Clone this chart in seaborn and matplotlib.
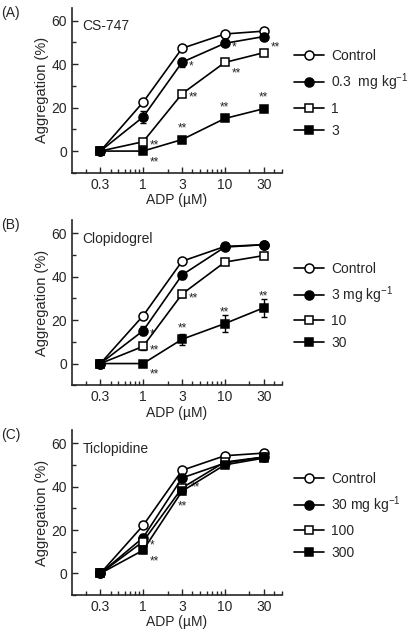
import numpy as np
import matplotlib
matplotlib.use("Agg")
import matplotlib.pyplot as plt
import seaborn as sns
from matplotlib.ticker import MultipleLocator, FixedLocator, NullFormatter

sns.set_style("ticks")
plt.rcParams["font.family"] = ["Liberation Sans", "DejaVu Sans"]
plt.rcParams["mathtext.default"] = "regular"

# ADP concentrations (uM)
adp = [0.3, 1, 3, 10, 30]
tick_labels = ["0.3", "1", "3", "10", "30"]

# ---------------- CS-747
cs_control = [0, 22.5, 47.3, 53.9, 55.2]
cs_d1 = [0, 15.7, 40.9, 49.6, 52.7]
cs_d2 = [0, 4.3, 26.4, 40.8, 45.3]
cs_d3 = [0, 0, 5.3, 15.0, 19.5]
cs_err_d1 = [0, 2.7, 2.0, 1.0, 1.0]
cs_labels = ["Control", "0.3  mg kg$^{-1}$", "1", "3"]
# (serie, indice adp, texto, posicion)
cs_sig = [(1, 2, "*", "r"), (1, 3, "*", "r"),
          (2, 1, "**", "r"), (2, 2, "**", "r"), (2, 3, "**", "rb"), (2, 4, "**", "ra"),
          (3, 1, "**", "rb"), (3, 2, "**", "a"), (3, 3, "**", "a"), (3, 4, "**", "a")]

# ---------------- Clopidogrel
cl_control = [0, 22.0, 47.1, 53.9, 54.7]
cl_d1 = [0, 15.1, 40.8, 53.6, 54.7]
cl_d2 = [0, 7.9, 32.0, 46.7, 49.7]
cl_d3 = [0, 0, 11.2, 18.4, 25.7]
cl_err_d1 = [0, 2.0, 1.8, 1.0, 0.8]
cl_err_d2 = [0, 1.5, 1.5, 1.0, 1.0]
cl_err_d3 = [0, 0.5, 2.6, 3.8, 4.2]
cl_labels = ["Control", "3 mg kg$^{-1}$", "10", "30"]
cl_sig = [(1, 1, "*", "r"), (2, 1, "**", "r"), (2, 2, "**", "r"),
          (3, 1, "**", "rb"), (3, 2, "**", "a"), (3, 3, "**", "a"), (3, 4, "**", "a")]

# ---------------- Ticlopidine
ti_control = [0, 22.1, 47.5, 54.2, 55.4]
ti_d1 = [0, 16.5, 44.0, 50.8, 53.6]
ti_d2 = [0, 14.7, 39.4, 51.3, 53.6]
ti_d3 = [0, 10.7, 37.9, 50.0, 53.1]
ti_err = [0, 1.5, 1.5, 1.0, 1.0]
ti_labels = ["Control", "30 mg kg$^{-1}$", "100", "300"]
ti_sig = [(2, 1, "*", "r"), (3, 1, "**", "rb"), (2, 2, "**", "rr"), (3, 2, "**", "b")]

paneles = [
    ("(A)", "CS-747", [cs_control, cs_d1, cs_d2, cs_d3],
     [None, cs_err_d1, None, None], cs_labels, cs_sig),
    ("(B)", "Clopidogrel", [cl_control, cl_d1, cl_d2, cl_d3],
     [None, cl_err_d1, cl_err_d2, cl_err_d3], cl_labels, cl_sig),
    ("(C)", "Ticlopidine", [ti_control, ti_d1, ti_d2, ti_d3],
     [None, ti_err, ti_err, ti_err], ti_labels, ti_sig),
]

estilos = [("o", "white"), ("o", "black"), ("s", "white"), ("s", "black")]
offsets = {"r": (5, -3), "rb": (5, -8), "ra": (5, 4), "a": (0, 8),
           "rr": (6, 0), "b": (0, -11)}

fig = plt.figure(figsize=(4.15, 6.4), dpi=100)
bottoms = [0.730, 0.398, 0.070]

for (letra, nombre, series, errores, etiquetas, sig), b in zip(paneles, bottoms):
    ax = fig.add_axes([0.1735, b, 0.506, 0.258])
    handles = []
    for i, (y, err) in enumerate(zip(series, errores)):
        m, fc = estilos[i]
        if err is not None:
            ax.errorbar(adp, y, yerr=err, fmt="none", ecolor="black",
                        elinewidth=1, capsize=2.5, zorder=2)
        sns.lineplot(x=adp, y=y, ax=ax, color="black", linewidth=1.2,
                     marker=m, markersize=6.5 if m == "o" else 6,
                     markerfacecolor=fc, markeredgecolor="black",
                     markeredgewidth=1.1, zorder=3 + i)
        handles.append(ax.lines[-1])
    for s, k, txt, pos in sig:
        ax.annotate(txt, (adp[k], series[s][k]), xytext=offsets[pos],
                    textcoords="offset points",
                    ha="center" if pos in ("a", "b") else "left",
                    va="center", fontsize=8.5)

    ax.set_xscale("log")
    ax.set_xlim(0.135, 50)
    ax.set_ylim(-10, 66)
    ax.xaxis.set_major_locator(FixedLocator(adp))
    ax.set_xticklabels(tick_labels)
    ax.xaxis.set_minor_formatter(NullFormatter())
    ax.set_yticks([0, 20, 40, 60])
    ax.yaxis.set_minor_locator(MultipleLocator(10))
    ax.tick_params(which="both", direction="in", labelsize=10, width=1)
    ax.tick_params(which="major", length=4)
    ax.tick_params(which="minor", length=3)
    for sp in ["left", "bottom"]:
        ax.spines[sp].set_linewidth(1.2)
    sns.despine(ax=ax)
    ax.set_xlabel("ADP (\u00b5M)", fontsize=10, labelpad=1)
    ax.set_ylabel("Aggregation (%)", fontsize=10.5, labelpad=2)
    ax.text(0.05, 0.93, nombre, transform=ax.transAxes, fontsize=10, va="top")
    fig.text(0.002, b + 0.258 + 0.003, letra, fontsize=10, va="top")

    ax.legend(handles, etiquetas, loc="center left", bbox_to_anchor=(1.03, 0.48),
              frameon=False, fontsize=10, handlelength=2.2, handletextpad=0.5,
              labelspacing=0.6, borderaxespad=0)

fig.savefig("out.png", dpi=100)
